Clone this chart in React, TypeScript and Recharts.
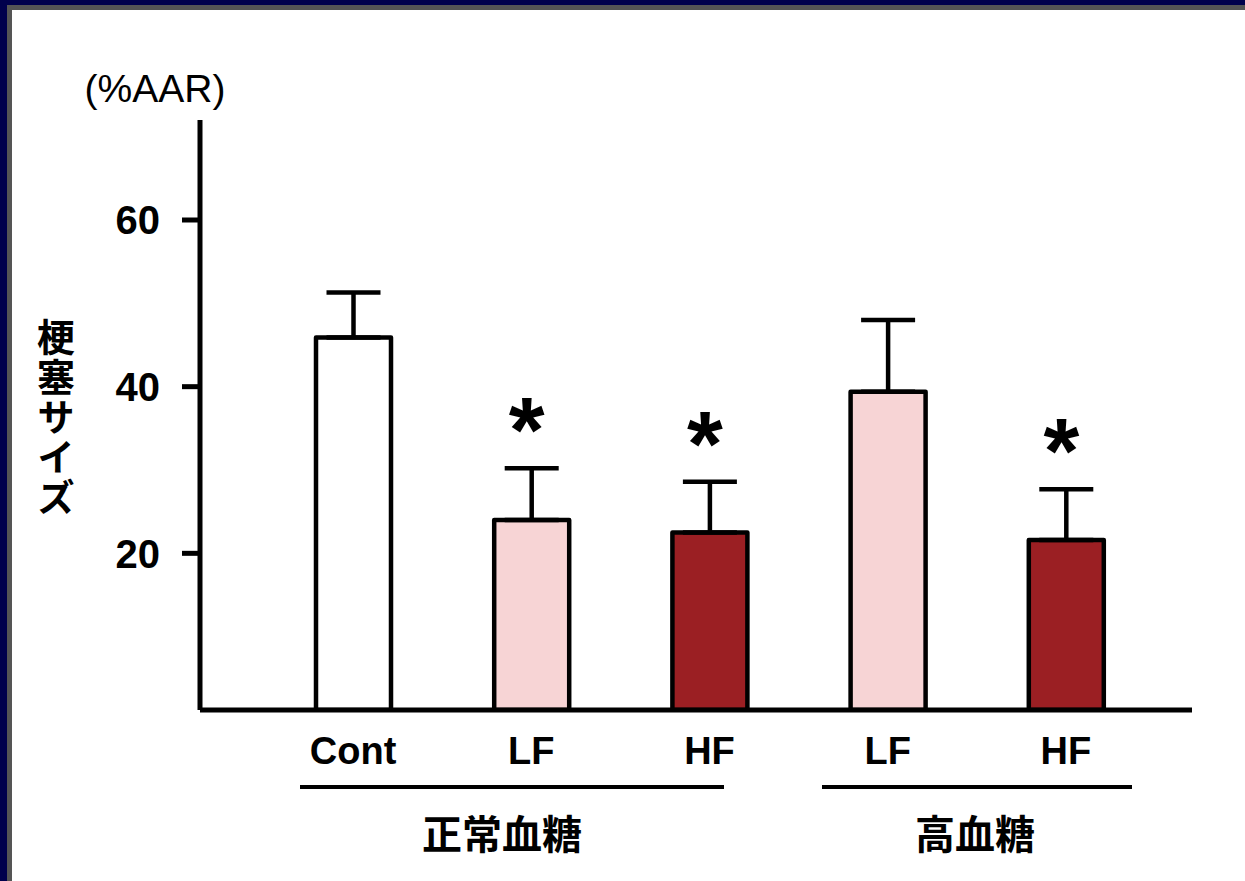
import React from 'react';
import { BarChart, Bar, XAxis, YAxis, ErrorBar, LabelList, Cell } from 'recharts';

// values (infarct size, %AAR)
const categories = ['Cont', 'LF', 'HF', 'LF', 'HF'];
const means = [45.9, 24.0, 22.5, 39.4, 21.6];
const sems = [5.4, 6.2, 6.1, 8.6, 6.1];
const marks = ['', '*', '*', '', '*'];
const fills = ['#ffffff', '#f7d4d5', '#9b1f23', '#f7d4d5', '#9b1f23'];
const yTicks = [20, 40, 60];
const groups = ['正常血糖', '高血糖'];

const Y_MIN = 1.2;
const Y_MAX = 72;

const data = categories.map((name, i) => ({
  key: `${name}-${i}`,
  name,
  mean: means[i],
  err: [0, sems[i]],
  mark: marks[i],
}));

const latin = '"Liberation Sans", Arial, sans-serif';
const cjk = '"Noto Sans CJK JP", "Noto Sans CJK SC", sans-serif';

const StarLabel = (props: any) => {
  const { x, y, width, height, index } = props;
  const m = marks[index];
  if (!m) return null;
  const pxPerUnit = height / (means[index] - Y_MIN);
  const capY = y - sems[index] * pxPerUnit;
  return (
    <text
      x={x + width / 2 - 5}
      y={capY - 6}
      textAnchor="middle"
      fontFamily={latin}
      fontWeight="bold"
      fontSize={92}
      fill="#000"
    >
      {m}
    </text>
  );
};

const XTick = (props: any) => {
  const { x, y, payload } = props;
  return (
    <text x={x} y={y} dy={46} textAnchor="middle" fontFamily={latin} fontWeight="bold" fontSize={38} fill="#000">
      {categories[payload.index] ?? payload.value}
    </text>
  );
};

export default function App() {
  return (
    <div style={{ position: 'absolute', top: 0, left: 0, width: 1245, height: 881, background: '#00004c', overflow: 'hidden' }}>
      <div
        style={{
          position: 'absolute',
          top: 5,
          left: 7,
          width: 1238,
          height: 876,
          background: '#fff',
          borderTop: '5px solid #555',
          borderLeft: '5px solid #555',
          boxSizing: 'border-box',
        }}
      />
      <div style={{ position: 'absolute', top: 0, left: 0 }}>
        <BarChart width={1245} height={881} data={data} margin={{ top: 120, right: 53, left: 0, bottom: 0 }}>
          <XAxis
            dataKey="key"
            height={171}
            tickLine={false}
            axisLine={{ stroke: '#000', strokeWidth: 5 }}
            tick={<XTick />}
            padding={{ left: 64, right: 37 }}
            interval={0}
          />
          <YAxis
            width={200}
            domain={[Y_MIN, Y_MAX]}
            ticks={yTicks}
            allowDataOverflow
            tickSize={18}
            tickMargin={22}
            tickLine={{ stroke: '#000', strokeWidth: 5 }}
            axisLine={{ stroke: '#000', strokeWidth: 5 }}
            tick={{ fill: '#000', fontSize: 40, fontWeight: 'bold', fontFamily: latin }}
          />
          <Bar
            dataKey="mean"
            barSize={75}
            stroke="#000"
            strokeWidth={4.5}
            strokeLinejoin="round"
            isAnimationActive={false}
          >
            {data.map((d, i) => (
              <Cell key={d.key} fill={fills[i]} />
            ))}
            <ErrorBar dataKey="err" width={27} stroke="#000" strokeWidth={4.5} direction="y" />
            <LabelList dataKey="mark" content={<StarLabel />} />
          </Bar>

          <text x={155} y={102} textAnchor="middle" fontFamily={latin} fontSize={39} fill="#000">
            (%AAR)
          </text>
          <text
            x={56}
            y={318}
            fontFamily={cjk}
            fontWeight="bold"
            fontSize={38}
            fill="#000"
            letterSpacing={2}
            style={{ writingMode: 'vertical-rl', textOrientation: 'upright' }}
          >
            梗塞サイズ
          </text>

          <line x1={300} x2={724} y1={787} y2={787} stroke="#000" strokeWidth={4} />
          <line x1={822} x2={1132} y1={787} y2={787} stroke="#000" strokeWidth={4} />
          <text x={502} y={849} textAnchor="middle" fontFamily={cjk} fontWeight="bold" fontSize={40} fill="#000">
            {groups[0]}
          </text>
          <text x={975} y={849} textAnchor="middle" fontFamily={cjk} fontWeight="bold" fontSize={40} fill="#000">
            {groups[1]}
          </text>
        </BarChart>
      </div>
    </div>
  );
}
